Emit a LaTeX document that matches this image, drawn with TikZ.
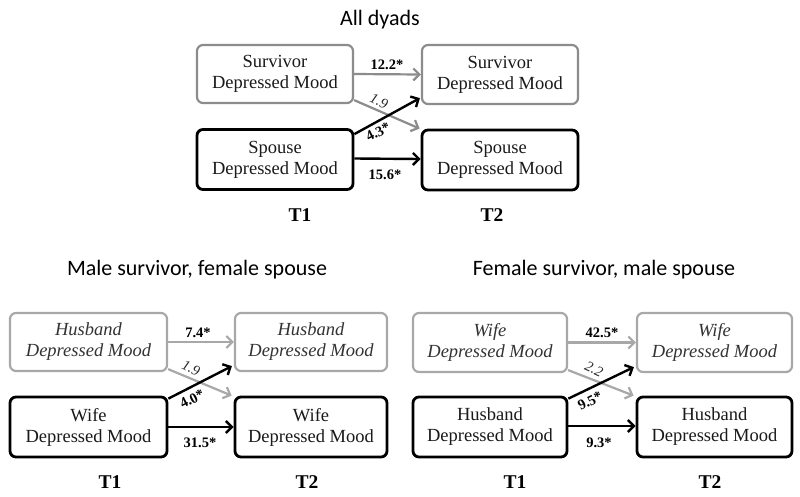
\documentclass[tikz,border=0pt]{standalone}
\usepackage{fontspec}
\setmainfont{Liberation Serif}
\newfontfamily\titlefont{Carlito}
\usetikzlibrary{arrows.meta,calc}
\definecolor{grA}{HTML}{8C8C8C}
\definecolor{grB}{HTML}{A8A8A8}
\definecolor{txt}{HTML}{1A1A1A}
\tikzset{
  box/.style={draw, rounded corners=6pt, minimum width=155pt, minimum height=59pt,
    align=center, font=\fontsize{18.5}{21}\selectfont, text=txt, inner sep=0pt},
  graybox/.style={box, draw=grA, line width=2.2pt},
  graybox2/.style={box, draw=grB, line width=2.2pt, font=\fontsize{18.5}{21}\selectfont\itshape, text=black!80},
  blackbox/.style={box, draw=black, line width=2.8pt},
  garr/.style={draw=grA, line width=2.2pt, -{Straight Barb[length=6pt,width=12pt]}},
  garr2/.style={draw=grB, line width=2.2pt, -{Straight Barb[length=6pt,width=12pt]}},
  barr/.style={draw=black, line width=2.4pt, -{Straight Barb[length=6pt,width=12pt]}},
  lab/.style={font=\fontsize{14.5}{16}\selectfont\bfseries, inner sep=0pt},
  ilab/.style={font=\fontsize{14.5}{16}\selectfont\itshape, inner sep=0pt, text=black!85},
  tlab/.style={font=\fontsize{19.5}{21}\selectfont\bfseries, inner sep=0pt},
  title/.style={font=\titlefont\fontsize{22}{24}\selectfont, inner sep=0pt}
}
\begin{document}
\begin{tikzpicture}[x=1pt,y=-1pt]
\useasboundingbox[fill=white] (0,0) rectangle (800,496);
% ---------- top ----------
\node[title] (tA) at (380,20) {All dyads};
\node[graybox, minimum width=156pt, minimum height=58pt] (s1) at (275,74) {Survivor\\Depressed Mood};
\node[graybox, minimum width=156pt, minimum height=59pt] (s2) at (500,74.5) {Survivor\\Depressed Mood};
\node[blackbox, minimum width=156pt, minimum height=60pt] (p1) at (275,159.5) {Spouse\\Depressed Mood};
\node[blackbox, minimum width=156pt, minimum height=60pt] (p2) at (500,160) {Spouse\\Depressed Mood};
\draw[garr] (s1.east) -- (s2.west);
\draw[garr] ([yshift=4pt]s1.south east) -- ([xshift=-1pt]p2.north west);
\draw[barr] ([yshift=-6pt]p1.north east) -- ([xshift=-1pt,yshift=7pt]s2.south west);
\draw[barr] ([yshift=1pt]p1.east) -- ([yshift=1pt]p2.west);
\node[lab] (l1) at (387,65) {12.2*};
\node[ilab, rotate=-25] (l2) at (379,101) {1.9};
\node[lab, rotate=27] (l3) at (378,132) {4.3*};
\node[lab] (l4) at (385,175) {15.6*};
\node[tlab] (t1) at (300,215) {T1};
\node[tlab] (t2) at (492,215) {T2};
% ---------- bottom left ----------
\node[title] (tB) at (197,270) {Male survivor, female spouse};
\node[graybox2, minimum width=157pt, minimum height=58pt] (h1) at (88.5,342) {Husband\\Depressed Mood};
\node[graybox2, minimum width=152pt, minimum height=58pt] (h2) at (311,342) {Husband\\Depressed Mood};
\node[blackbox, minimum width=157pt, minimum height=60pt] (w1) at (88.5,427) {Wife\\Depressed Mood};
\node[blackbox, minimum width=152pt, minimum height=60pt] (w2) at (311,427) {Wife\\Depressed Mood};
\draw[garr2] (h1.east) -- (h2.west);
\draw[garr2] ([yshift=3pt]h1.south east) -- ([xshift=-2pt]w2.north west);
\draw[barr] ([yshift=-3pt]w1.north east) -- ([xshift=-2pt,yshift=6pt]h2.south west);
\draw[barr] (w1.east) -- (w2.west);
\node[lab] (b1) at (198,333) {7.4*};
\node[ilab, rotate=-25] (b2) at (191,368) {1.9};
\node[lab, rotate=27] (b3) at (192,399) {4.0*};
\node[lab] (b4) at (200,443) {31.5*};
\node[tlab] (t3) at (110,482) {T1};
\node[tlab] (t4) at (307,482) {T2};
% ---------- bottom right ----------
\node[title] (tC) at (604,270) {Female survivor, male spouse};
\node[graybox2, minimum width=154pt, minimum height=59pt] (f1) at (490,342.5) {Wife\\Depressed Mood};
\node[graybox2, minimum width=155pt, minimum height=59pt] (f2) at (714.5,342.5) {Wife\\Depressed Mood};
\node[blackbox, minimum width=154pt, minimum height=60pt] (m1) at (490,427) {Husband\\Depressed Mood};
\node[blackbox, minimum width=155pt, minimum height=60pt] (m2) at (714.5,427) {Husband\\Depressed Mood};
\draw[garr2] (f1.east) -- (f2.west);
\draw[garr2] ([yshift=3pt]f1.south east) -- ([xshift=-2pt]m2.north west);
\draw[barr] ([yshift=-3pt]m1.north east) -- ([xshift=-2pt,yshift=6pt]f2.south west);
\draw[barr] ([yshift=1pt]m1.east) -- ([yshift=1pt]m2.west);
\node[lab] (c1) at (602,333) {42.5*};
\node[ilab, rotate=-25] (c2) at (594,369) {2.2};
\node[lab, rotate=27] (c3) at (590,401) {9.5*};
\node[lab] (c4) at (599,443) {9.3*};
\node[tlab] (t5) at (515,482) {T1};
\node[tlab] (t6) at (710,482) {T2};
\end{tikzpicture}
\end{document}
